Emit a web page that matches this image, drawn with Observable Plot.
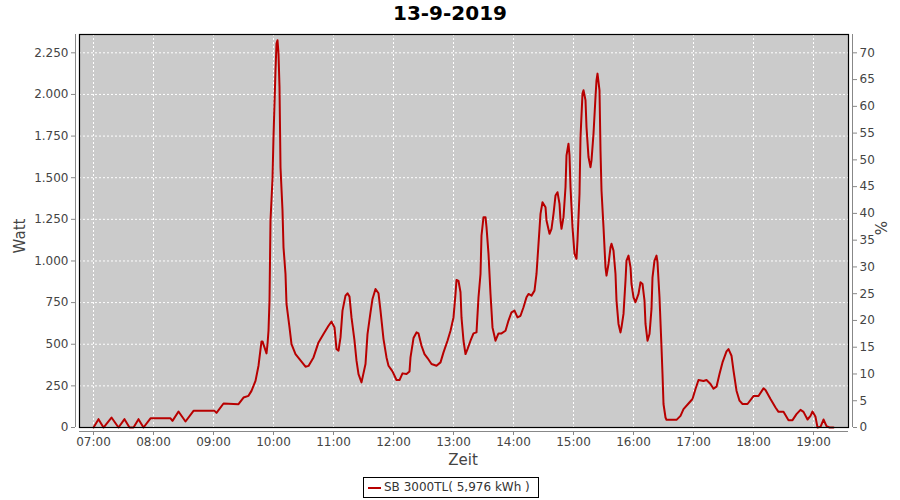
<!DOCTYPE html>
<html><head><meta charset="utf-8">
<script src="https://cdn.jsdelivr.net/npm/d3@7"></script>
<script src="https://cdn.jsdelivr.net/npm/@observablehq/plot@0.6"></script>
<style>
body{margin:0;background:#fff;}
#wrap{position:relative;width:900px;height:500px;font-family:"DejaVu Sans",sans-serif;color:#444;}
#wrap svg{position:absolute;left:0;top:0;}
.lbl{position:absolute;white-space:nowrap;}
#title{left:0;top:3px;width:900px;text-align:center;font-weight:bold;font-size:20px;line-height:20px;color:#000;}
#xlab{left:413px;top:453px;width:100px;text-align:center;font-size:15px;line-height:15px;}
#ylab{left:-30px;top:226px;width:100px;text-align:center;font-size:15px;line-height:20px;transform:rotate(-90deg);}
#plab{left:832px;top:218px;width:100px;text-align:center;font-size:15px;line-height:20px;transform:rotate(-90deg);}
#legend{left:363px;top:477px;width:176px;height:21px;box-sizing:border-box;border:1px solid #000;font-size:12px;line-height:19px;color:#333;}
#legend .sw{position:absolute;left:4px;top:9px;width:13px;height:2px;background:#b80000;}
#legend .tx{position:absolute;left:20px;top:0;}
</style>
</head><body>
<div id="wrap"></div>
<script>
const times = ["07:00","07:05","07:10","07:18","07:25","07:31","07:36","07:40","07:45","07:50","07:57","08:17","08:19","08:25","08:32","08:40","09:01","09:03","09:10","09:25","09:30","09:35","09:38","09:42","09:45","09:48","09:49","09:53","09:54","09:55","09:56","09:57","09:59","10:00","10:02","10:03","10:04","10:05","10:06","10:07","10:09","10:10","10:12","10:13","10:16","10:18","10:22","10:26","10:32","10:35","10:40","10:45","10:50","10:55","10:58","11:01","11:03","11:05","11:07","11:09","11:12","11:14","11:16","11:18","11:21","11:23","11:25","11:28","11:32","11:34","11:37","11:39","11:42","11:45","11:47","11:50","11:53","11:55","11:59","12:03","12:06","12:09","12:13","12:16","12:17","12:20","12:23","12:25","12:28","12:31","12:34","12:38","12:43","12:47","12:50","12:54","12:57","13:00","13:02","13:03","13:05","13:07","13:08","13:10","13:12","13:14","13:17","13:20","13:23","13:25","13:27","13:28","13:30","13:32","13:33","13:35","13:37","13:39","13:42","13:45","13:48","13:52","13:55","13:58","14:01","14:04","14:07","14:10","14:13","14:15","14:18","14:21","14:23","14:25","14:27","14:29","14:32","14:33","14:36","14:38","14:40","14:42","14:44","14:46","14:47","14:48","14:50","14:52","14:53","14:55","14:56","14:57","14:59","15:01","15:03","15:04","15:06","15:07","15:09","15:10","15:12","15:13","15:15","15:17","15:18","15:20","15:22","15:23","15:24","15:26","15:27","15:28","15:30","15:32","15:33","15:35","15:37","15:38","15:40","15:42","15:43","15:45","15:47","15:48","15:50","15:52","15:53","15:55","15:57","15:58","16:00","16:02","16:05","16:07","16:09","16:11","16:12","16:14","16:16","16:18","16:19","16:21","16:23","16:24","16:26","16:28","16:29","16:30","16:32","16:33","16:43","16:47","16:50","16:55","16:59","17:02","17:05","17:10","17:13","17:17","17:20","17:23","17:26","17:29","17:33","17:35","17:38","17:40","17:43","17:46","17:49","17:54","18:00","18:05","18:10","18:12","18:17","18:22","18:25","18:30","18:35","18:39","18:43","18:47","18:50","18:54","18:57","18:59","19:02","19:04","19:07","19:10","19:13","19:16","19:20"];
const watts = [0,50,0,60,0,50,0,0,50,0,55,55,40,96,36,100,100,88,144,140,180,190,220,280,371,517,517,445,500,581,762,1243,1494,1744,2145,2305,2325,2245,2045,1563,1303,1082,922,742,601,501,441,411,365,370,421,511,561,611,636,601,471,461,541,702,792,806,786,661,521,401,321,271,381,561,692,772,832,806,702,531,421,371,337,285,285,325,321,337,421,537,571,565,491,441,417,381,371,391,451,521,581,661,802,886,880,812,661,521,441,471,521,565,571,782,922,1153,1263,1263,1203,1043,802,601,521,565,565,581,642,692,702,661,671,722,782,802,792,822,922,1103,1283,1353,1323,1243,1163,1193,1283,1393,1413,1343,1243,1193,1263,1443,1634,1704,1634,1443,1203,1043,1013,1123,1403,1744,2005,2025,1965,1804,1624,1563,1604,1764,1985,2085,2125,2025,1664,1423,1203,962,912,982,1082,1103,1062,922,762,622,571,601,682,882,1002,1032,962,862,782,752,802,872,862,762,622,521,561,712,902,1002,1032,992,782,481,321,141,60,46,46,70,110,144,171,231,285,279,285,261,233,245,321,391,457,471,431,341,221,161,141,141,189,189,235,225,171,120,94,94,44,44,80,106,94,48,70,96,64,0,4,48,8,0,0];
const xTicks = ["07:00","08:00","09:00","10:00","11:00","12:00","13:00","14:00","15:00","16:00","17:00","18:00","19:00"];
const wattTicks = [0,250,500,750,1000,1250,1500,1750,2000,2250];
const pctTicks = [0,5,10,15,20,25,30,35,40,45,50,55,60,65,70];

const toMin = s => { const [h, m] = s.split(":").map(Number); return h * 60 + m; };
const data = times.map((t, i) => ({t: toMin(t), w: watts[i]}));
const de = d3.formatLocale({decimal: ",", thousands: ".", grouping: [3], currency: ["", "€"]});
const fmt = de.format(",d");
const W_PER_PCT = 2250 / 70;
const xDomain = [toMin("06:46"), toMin("19:35")];
const xt = xTicks.map(toMin);

const chart = Plot.plot({
  width: 900, height: 500,
  marginLeft: 79, marginRight: 52, marginTop: 34, marginBottom: 73,
  style: {fontFamily: "DejaVu Sans", fontSize: "12px", color: "#444", background: "transparent", overflow: "visible"},
  x: {type: "linear", domain: xDomain},
  y: {domain: [0, 2360]},
  marks: [
    Plot.frame({fill: "#cbcbcb", stroke: null}),
    Plot.gridX(xt, {stroke: "#fff", strokeOpacity: 1, strokeDasharray: "2,2"}),
    Plot.gridY(wattTicks, {stroke: "#fff", strokeOpacity: 1, strokeDasharray: "2,2"}),
    Plot.line(data, {x: "t", y: "w", stroke: "#b80000", strokeWidth: 2}),
    Plot.frame({stroke: "#000", strokeWidth: 1.2}),
    Plot.ruleX([xDomain[0]], {dx: -4, stroke: "#888"}),
    Plot.axisY(wattTicks, {anchor: "left", tickFormat: fmt, dx: -4, tickSize: 4, tickPadding: 3, label: null, stroke: "#888", fill: "#444"}),
    Plot.ruleX([xDomain[1]], {dx: 4, stroke: "#888"}),
    Plot.axisY(pctTicks.map(p => p * W_PER_PCT), {anchor: "right", tickFormat: w => String(Math.round(w / W_PER_PCT)), dx: 4, tickSize: 4, tickPadding: 3, label: null, stroke: "#888", fill: "#444"}),
    Plot.ruleY([0], {dy: 4, stroke: "#888"}),
    Plot.axisX(xt, {anchor: "bottom", tickFormat: (d, i) => xTicks[i], dy: 4, tickSize: 4, tickPadding: 2, label: null, stroke: "#888", fill: "#444"})
  ]
});

const wrap = document.getElementById("wrap");
wrap.appendChild(chart);
const add = (id, html) => { const d = document.createElement("div"); d.id = id; d.className = "lbl"; d.innerHTML = html; wrap.appendChild(d); };
add("title", "13-9-2019");
add("xlab", "Zeit");
add("ylab", "Watt");
add("plab", "%");
add("legend", '<span class="sw"></span><span class="tx">SB 3000TL( 5,976 kWh )</span>');
</script>
</body></html>
